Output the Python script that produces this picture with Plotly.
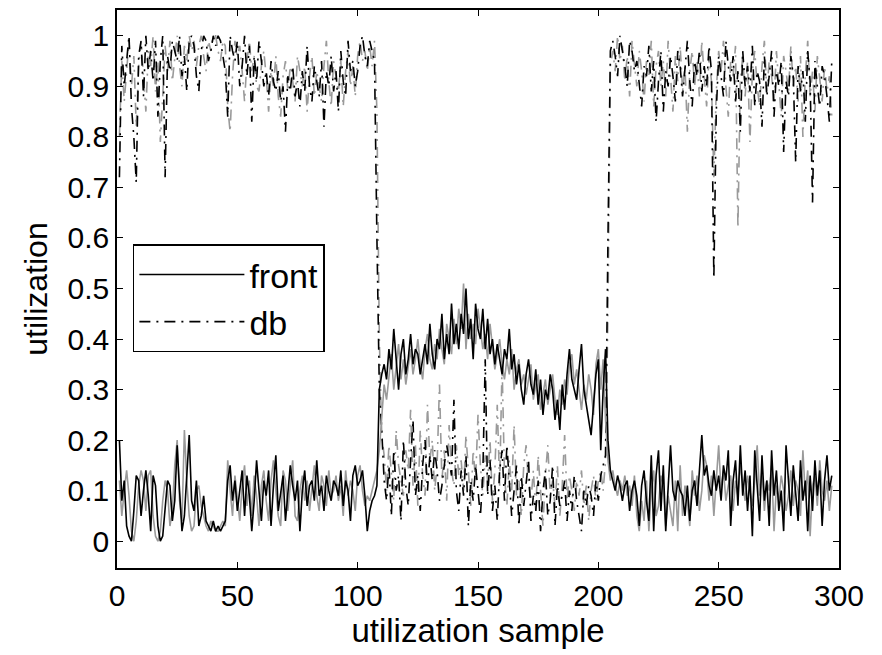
import plotly.graph_objects as go

# ---- data (samples 1..297) ----
front_run1 = [
    0.20, 0.08, 0.12, 0.03, 0.01, 0.00, 0.06, 0.13, 0.12, 0.05,
    0.10, 0.14, 0.09, 0.02, 0.13, 0.11, 0.03, 0.00, 0.01, 0.06,
    0.12, 0.11, 0.04, 0.08, 0.19, 0.10, 0.02, 0.05, 0.13, 0.21,
    0.08, 0.06, 0.12, 0.03, 0.05, 0.09, 0.04, 0.03, 0.02, 0.04,
    0.02, 0.03, 0.02, 0.03, 0.04, 0.12, 0.15, 0.08, 0.12, 0.06,
    0.10, 0.14, 0.05, 0.13, 0.09, 0.02, 0.08, 0.16, 0.10, 0.04,
    0.12, 0.09, 0.14, 0.03, 0.11, 0.17, 0.06, 0.10, 0.13, 0.04,
    0.09, 0.15, 0.11, 0.08, 0.12, 0.02, 0.10, 0.14, 0.07, 0.11,
    0.12, 0.08, 0.16, 0.09, 0.11, 0.06, 0.13, 0.10, 0.08, 0.12,
    0.11, 0.09, 0.14, 0.07, 0.12, 0.10, 0.04, 0.13, 0.15, 0.11,
    0.12, 0.14, 0.09, 0.02, 0.06, 0.08, 0.09, 0.11,
    0.30, 0.33, 0.35, 0.32, 0.38, 0.34, 0.42, 0.36, 0.30, 0.37, 0.40, 0.33,
    0.36, 0.41, 0.35, 0.38, 0.37, 0.33, 0.36, 0.39, 0.35, 0.43,
    0.37, 0.34, 0.40, 0.38, 0.45, 0.36, 0.41, 0.37, 0.47, 0.39,
    0.43, 0.38, 0.45, 0.41, 0.50, 0.40, 0.44, 0.36, 0.47, 0.42,
    0.40, 0.46, 0.38, 0.44, 0.37, 0.40, 0.35, 0.39, 0.36, 0.33,
    0.38, 0.36, 0.42, 0.34, 0.37, 0.31, 0.35, 0.30, 0.27, 0.33,
    0.36, 0.31, 0.29, 0.34, 0.27, 0.32, 0.25, 0.30, 0.28, 0.33,
    0.30, 0.24, 0.28, 0.22, 0.31, 0.26, 0.33, 0.38, 0.32, 0.30,
    0.28, 0.34, 0.39, 0.30, 0.27, 0.24, 0.21, 0.27, 0.33, 0.36,
    0.18, 0.30, 0.38, 0.20, 0.14,
    0.12, 0.10, 0.13, 0.11, 0.08,
    0.11, 0.12, 0.06, 0.10, 0.12, 0.09, 0.03, 0.11, 0.14, 0.08,
    0.04, 0.17, 0.02, 0.13, 0.18, 0.06, 0.15, 0.02, 0.12, 0.19,
    0.10, 0.08, 0.12, 0.10, 0.09, 0.05, 0.11, 0.04, 0.10, 0.12,
    0.07, 0.14, 0.21, 0.13, 0.15, 0.11, 0.09, 0.14, 0.10, 0.13,
    0.08, 0.15, 0.12, 0.18, 0.03, 0.12, 0.16, 0.07, 0.19, 0.09,
    0.14, 0.06, 0.13, 0.01, 0.18, 0.11, 0.04, 0.17, 0.08, 0.12,
    0.03, 0.18, 0.09, 0.14, 0.06, 0.10, 0.02, 0.19, 0.11, 0.05,
    0.15, 0.10, 0.04, 0.16, 0.08, 0.12, 0.02, 0.13, 0.06, 0.16,
    0.09, 0.14, 0.03, 0.12, 0.17, 0.10, 0.13,
]

front_run2 = [
    0.12, 0.05, 0.10, 0.14, 0.09, 0.02, 0.00, 0.04, 0.11, 0.14,
    0.12, 0.06, 0.13, 0.14, 0.05, 0.01, 0.00, 0.02, 0.08, 0.12,
    0.10, 0.03, 0.06, 0.15, 0.20, 0.08, 0.04, 0.22, 0.12, 0.05,
    0.02, 0.03, 0.10, 0.11, 0.07, 0.05, 0.03, 0.02, 0.04, 0.03,
    0.02, 0.02, 0.03, 0.04, 0.03, 0.16, 0.10, 0.05, 0.13, 0.09,
    0.04, 0.11, 0.15, 0.07, 0.12, 0.05, 0.13, 0.09, 0.03, 0.11,
    0.14, 0.08, 0.04, 0.12, 0.16, 0.10, 0.05, 0.03, 0.14, 0.12,
    0.06, 0.11, 0.16, 0.05, 0.04, 0.10, 0.13, 0.08, 0.12, 0.06,
    0.10, 0.15, 0.09, 0.06, 0.13, 0.11, 0.07, 0.14, 0.09, 0.10,
    0.13, 0.08, 0.11, 0.05, 0.14, 0.09, 0.12, 0.10, 0.06, 0.13,
    0.15, 0.10, 0.07, 0.09, 0.08, 0.10, 0.12, 0.14,
    0.18, 0.25, 0.31, 0.28, 0.33, 0.37, 0.30, 0.34, 0.39, 0.32, 0.36, 0.31,
    0.35, 0.38, 0.33, 0.36, 0.40, 0.35, 0.32, 0.38, 0.41, 0.36,
    0.34, 0.39, 0.36, 0.42, 0.38, 0.35, 0.43, 0.40, 0.37, 0.44,
    0.39, 0.46, 0.42, 0.51, 0.38, 0.45, 0.40, 0.43, 0.39, 0.46,
    0.42, 0.38, 0.41, 0.36, 0.43, 0.38, 0.34, 0.37, 0.40, 0.35,
    0.32, 0.36, 0.33, 0.38, 0.30, 0.34, 0.36, 0.31, 0.33, 0.29,
    0.32, 0.35, 0.28, 0.31, 0.33, 0.26, 0.29, 0.32, 0.27, 0.30,
    0.33, 0.28, 0.25, 0.30, 0.27, 0.32, 0.29, 0.35, 0.37, 0.31,
    0.34, 0.30, 0.26, 0.31, 0.28, 0.33, 0.30, 0.25, 0.35, 0.38,
    0.30, 0.36, 0.24, 0.16, 0.12,
    0.14, 0.11, 0.09, 0.12, 0.10,
    0.13, 0.09, 0.11, 0.07, 0.13, 0.05, 0.02, 0.08, 0.04, 0.12,
    0.02, 0.10, 0.14, 0.05, 0.07, 0.13, 0.11, 0.03, 0.09, 0.06,
    0.03, 0.12, 0.02, 0.15, 0.05, 0.11, 0.08, 0.03, 0.14, 0.09,
    0.13, 0.06, 0.10, 0.17, 0.15, 0.08, 0.13, 0.05, 0.12, 0.19,
    0.10, 0.14, 0.08, 0.11, 0.13, 0.06, 0.12, 0.09, 0.15, 0.11,
    0.08, 0.13, 0.10, 0.07, 0.12, 0.19, 0.09, 0.14, 0.06, 0.12,
    0.10, 0.15, 0.02, 0.11, 0.08, 0.13, 0.10, 0.06, 0.09, 0.14,
    0.07, 0.12, 0.10, 0.05, 0.18, 0.09, 0.14, 0.01, 0.11, 0.13,
    0.07, 0.16, 0.10, 0.08, 0.12, 0.06, 0.11,
]

db_run1 = [
    0.72, 0.98, 0.90, 0.95, 1.00, 0.86, 0.80, 0.71, 0.96, 0.99,
    0.88, 1.00, 0.93, 0.97, 0.91, 0.99, 0.84, 0.95, 1.00, 0.72,
    0.96, 0.93, 0.99, 0.97, 0.95, 1.00, 0.92, 0.96, 0.89, 0.99,
    1.00, 0.98, 0.92, 0.89, 0.97, 1.00, 0.99, 0.95, 0.97, 1.00,
    0.98, 1.00, 0.99, 0.96, 0.93, 0.84, 1.00, 0.97, 0.95, 0.99,
    0.90, 0.94, 1.00, 0.92, 0.98, 0.83, 0.96, 0.91, 0.99, 0.95,
    0.90, 0.93, 0.88, 0.95, 0.91, 0.89, 0.93, 0.87, 0.90, 0.81,
    0.92, 0.89, 0.94, 0.88, 0.91, 0.86, 0.93, 0.89, 0.98, 0.90,
    0.87, 0.94, 0.91, 0.88, 0.95, 0.82, 0.93, 0.90, 0.96, 0.89,
    0.93, 0.85, 0.97, 0.91, 0.88, 0.99, 0.93, 0.95, 0.90, 0.93,
    0.98, 1.00, 0.96, 0.94, 0.99, 0.97, 0.95, 0.60,
    0.30, 0.22, 0.12, 0.08, 0.15, 0.05, 0.18, 0.10, 0.13, 0.04, 0.20, 0.11,
    0.07, 0.16, 0.24, 0.09, 0.13, 0.06, 0.15, 0.20, 0.10, 0.17,
    0.12, 0.18, 0.14, 0.08, 0.11, 0.15, 0.19, 0.16, 0.13, 0.28,
    0.10, 0.06, 0.14, 0.09, 0.17, 0.03, 0.12, 0.08, 0.15, 0.10,
    0.05, 0.13, 0.36, 0.09, 0.16, 0.06, 0.11, 0.04, 0.14, 0.18,
    0.08, 0.19, 0.12, 0.05, 0.10, 0.15, 0.03, 0.13, 0.07, 0.11,
    0.16, 0.04, 0.09, 0.06, 0.12, 0.02, 0.10, 0.14, 0.05, 0.08,
    0.15, 0.03, 0.11, 0.07, 0.09, 0.12, 0.04, 0.10, 0.06, 0.13,
    0.08, 0.05, 0.02, 0.10, 0.07, 0.11, 0.09, 0.05, 0.12, 0.08,
    0.13, 0.15, 0.17, 0.60, 0.97,
    0.99, 0.96, 0.92, 1.00, 0.97,
    0.94, 0.90, 0.99, 0.97, 0.93, 0.95, 0.91, 0.86, 0.94, 0.92,
    0.98, 0.89, 0.95, 0.83, 0.91, 0.97, 0.85, 0.93, 0.90, 0.96,
    0.92, 0.87, 0.97, 0.94, 0.88, 0.93, 0.99, 0.91, 0.86, 0.95,
    0.92, 0.97, 0.89, 0.94, 0.90, 0.98, 0.93, 0.52, 0.85, 0.96,
    0.92, 0.88, 0.99, 0.94, 0.91, 0.96, 0.87, 0.93, 0.81, 0.97,
    0.90, 0.94, 0.89, 0.98, 0.86, 0.93, 0.91, 0.82, 0.96, 0.88,
    0.92, 0.97, 0.84, 0.93, 0.90, 0.95, 0.77, 0.91, 0.88, 0.96,
    0.92, 0.75, 0.94, 0.89, 0.93, 0.83, 0.97, 0.91, 0.67, 0.95,
    0.90, 0.86, 0.94, 0.92, 0.88, 0.83, 0.95,
]

db_run2 = [
    0.80, 0.95, 0.87, 0.93, 0.99, 0.90, 0.96, 0.82, 0.94, 0.99,
    0.92, 0.85, 0.97, 0.94, 1.00, 0.89, 0.95, 0.79, 0.88, 0.98,
    0.93, 0.99, 0.91, 0.96, 1.00, 0.94, 0.90, 0.98, 0.95, 1.00,
    0.97, 0.99, 0.94, 0.98, 1.00, 0.96, 0.93, 0.99, 0.97, 1.00,
    1.00, 0.97, 0.95, 0.99, 0.98, 0.86, 0.81, 0.92, 0.99, 0.96,
    0.98, 0.93, 0.87, 0.95, 0.99, 0.93, 0.96, 0.90, 0.89, 0.94,
    0.97, 0.92, 0.85, 0.93, 0.90, 0.96, 0.88, 0.84, 0.92, 0.95,
    0.89, 0.94, 0.91, 0.87, 0.96, 0.93, 0.90, 0.94, 0.85, 0.92,
    0.96, 0.88, 0.93, 0.90, 0.87, 0.94, 0.99, 0.91, 0.86, 0.95,
    0.92, 0.89, 0.95, 0.86, 0.93, 0.97, 0.90, 0.94, 0.88, 0.96,
    0.99, 0.95, 0.97, 0.93, 0.98, 0.94, 0.99, 0.85,
    0.40, 0.21, 0.17, 0.10, 0.19, 0.13, 0.08, 0.22, 0.15, 0.12, 0.09, 0.18,
    0.14, 0.26, 0.11, 0.19, 0.07, 0.22, 0.13, 0.09, 0.27, 0.16,
    0.20, 0.10, 0.15, 0.31, 0.12, 0.18, 0.08, 0.23, 0.14, 0.11,
    0.19, 0.13, 0.16, 0.10, 0.21, 0.14, 0.07, 0.18, 0.12, 0.25,
    0.15, 0.09, 0.17, 0.12, 0.20, 0.08, 0.14, 0.27, 0.11, 0.35,
    0.13, 0.07, 0.16, 0.10, 0.23, 0.09, 0.12, 0.05, 0.15, 0.19,
    0.11, 0.08, 0.14, 0.06, 0.17, 0.10, 0.03, 0.13, 0.19, 0.09,
    0.12, 0.07, 0.15, 0.05, 0.11, 0.21, 0.08, 0.13, 0.10, 0.06,
    0.12, 0.09, 0.14, 0.07, 0.11, 0.04, 0.10, 0.13, 0.08, 0.12,
    0.14, 0.10, 0.16, 0.45, 0.94,
    0.97, 0.93, 1.00, 0.95, 0.98,
    0.91, 0.96, 0.88, 0.99, 0.94, 0.90, 0.97, 0.93, 0.87, 0.95,
    0.92, 0.99, 0.86, 0.94, 0.97, 0.90, 0.95, 0.88, 0.99, 0.92,
    0.85, 0.96, 0.91, 0.98, 0.89, 0.94, 0.81, 0.93, 0.97, 0.90,
    0.95, 0.88, 0.99, 0.92, 0.86, 0.96, 0.91, 0.72, 0.89, 0.97,
    0.93, 0.99, 0.90, 0.84, 0.95, 0.92, 0.98, 0.62, 0.91, 0.96,
    0.88, 0.95, 0.79, 0.93, 0.97, 0.90, 0.86, 0.94, 0.99, 0.89,
    0.95, 0.92, 0.87, 0.97, 0.91, 0.84, 0.96, 0.93, 0.89, 0.98,
    0.90, 0.94, 0.87, 0.96, 0.80, 0.92, 0.99, 0.88, 0.93, 0.85,
    0.96, 0.91, 0.87, 0.94, 0.89, 0.92, 0.84,
]

x_ticks = [0, 50, 100, 150, 200, 250, 300]
y_ticks = [0, 0.1, 0.2, 0.3, 0.4, 0.5, 0.6, 0.7, 0.8, 0.9, 1]
y_tick_text = ["0", "0.1", "0.2", "0.3", "0.4", "0.5", "0.6", "0.7", "0.8", "0.9", "1"]
x_title = "utilization sample"
y_title = "utilization"

FONT = "Liberation Sans, Arial, sans-serif"
DASHDOT = "11px,6px,2px,6px"
GRAY = "#9a9a9a"
LW = 1.6


def xs(vals):
    return list(range(1, len(vals) + 1))


fig = go.Figure()
fig.add_trace(go.Scatter(x=xs(db_run2), y=db_run2, mode="lines", showlegend=False,
                         line=dict(color=GRAY, width=LW, dash=DASHDOT)))
fig.add_trace(go.Scatter(x=xs(db_run1), y=db_run1, mode="lines", name="db", showlegend=False,
                         line=dict(color="black", width=LW, dash=DASHDOT)))
fig.add_trace(go.Scatter(x=xs(front_run2), y=front_run2, mode="lines", showlegend=False,
                         line=dict(color=GRAY, width=LW)))
fig.add_trace(go.Scatter(x=xs(front_run1), y=front_run1, mode="lines", name="front",
                         line=dict(color="black", width=LW)))
# legend entry for db (same style as the db series)
fig.add_trace(go.Scatter(x=[None], y=[None], mode="lines", name="db",
                         line=dict(color="black", width=LW, dash=DASHDOT)))

axis_common = dict(
    showline=True, linecolor="black", linewidth=1.5, mirror="allticks",
    ticks="inside", ticklen=6, tickwidth=1.2, tickcolor="black",
    showgrid=False, zeroline=False,
    tickfont=dict(family=FONT, size=30, color="black"),
)

fig.update_layout(
    width=882, height=655,
    margin=dict(l=117, r=43, t=8, b=87),
    paper_bgcolor="white", plot_bgcolor="white",
    font=dict(family=FONT, color="black"),
    xaxis=dict(range=[0, 300], tickvals=x_ticks, ticktext=[str(v) for v in x_ticks],
               title=dict(text=x_title, font=dict(family=FONT, size=33), standoff=0),
               **axis_common),
    yaxis=dict(range=[-0.053, 1.051], tickvals=y_ticks, ticktext=y_tick_text,
               title=dict(text=y_title, font=dict(family=FONT, size=32), standoff=10),
               **axis_common),
    legend=dict(x=0.022, y=0.58, xanchor="left", yanchor="top",
                bgcolor="white", bordercolor="black", borderwidth=1.5,
                font=dict(family=FONT, size=34, color="black"),
                itemwidth=105, tracegroupgap=0),
)

fig.write_html("out.html")
